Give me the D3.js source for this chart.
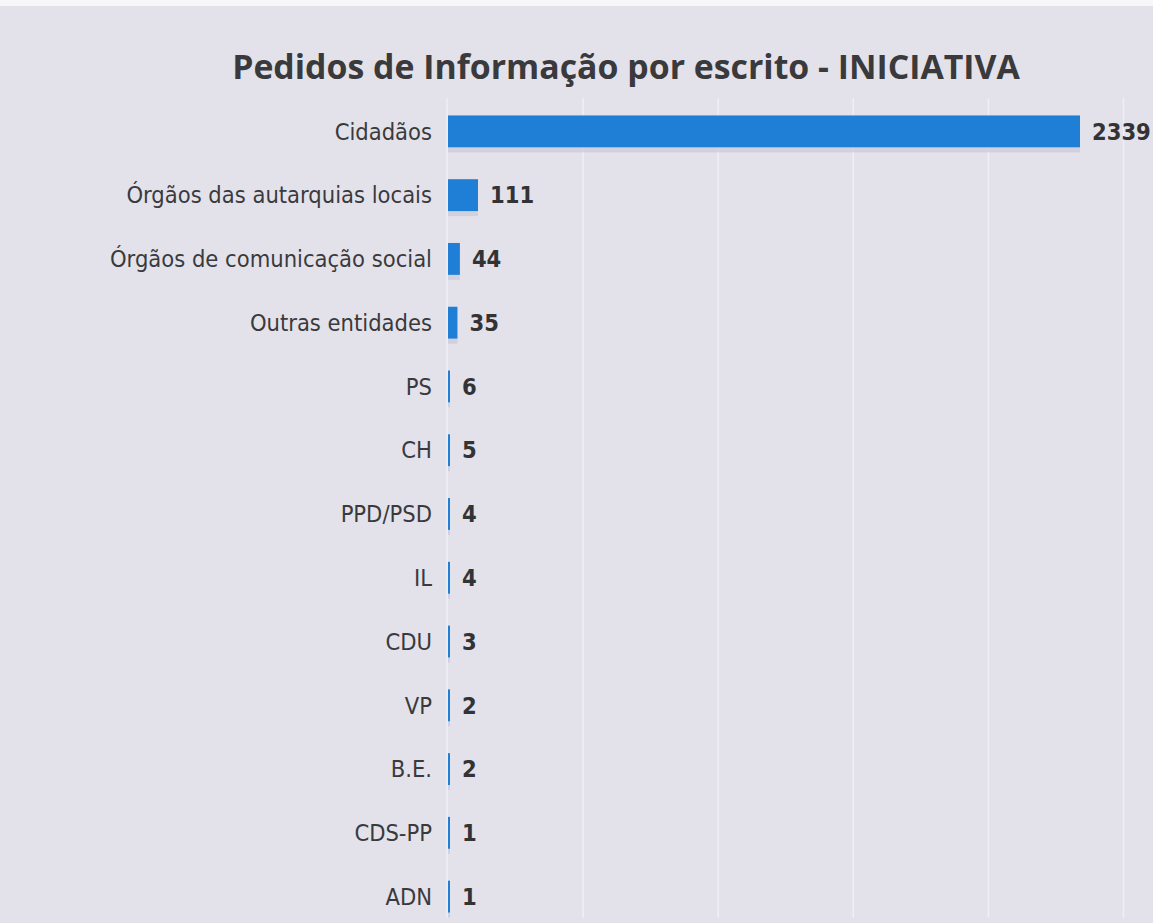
<!DOCTYPE html>
<html>
<head>
<meta charset="utf-8">
<script src="https://cdn.jsdelivr.net/npm/d3@7"></script>
<style>
  html, body { margin: 0; padding: 0; background: #e3e2eb; }
  svg { display: block; }
</style>
</head>
<body>
<svg id="chart" width="1153" height="923"></svg>
<script>
const title = "Pedidos de Informação por escrito - INICIATIVA";
const categories = ["Cidadãos", "Órgãos das autarquias locais", "Órgãos de comunicação social", "Outras entidades", "PS", "CH", "PPD/PSD", "IL", "CDU", "VP", "B.E.", "CDS-PP", "ADN"];
const values = [2339, 111, 44, 35, 6, 5, 4, 4, 3, 2, 2, 1, 1];
const gridTicks = [500, 1000, 1500, 2000, 2500];

const W = 1153, H = 923;
const svg = d3.select("#chart");

svg.append("rect").attr("width", W).attr("height", H).attr("fill", "#e3e2eb");
svg.append("rect").attr("width", W).attr("height", 6).attr("fill", "#f7f7fa");

const x = d3.scaleLinear().domain([0, 2500]).range([448, 1123.5]);
const y = d3.scaleBand().domain(categories).range([99.5, 928.5]).paddingInner(0.5).paddingOuter(0.25);

// gridlines
svg.append("g").selectAll("line").data(gridTicks).join("line")
  .attr("x1", d => x(d)).attr("x2", d => x(d))
  .attr("y1", 98).attr("y2", 918)
  .attr("stroke", "#efeff5").attr("stroke-width", 1.5);
svg.append("line").attr("x1", x(0) - 1).attr("x2", x(0) - 1).attr("y1", 98).attr("y2", 918)
  .attr("stroke", "#eeeef4").attr("stroke-width", 1.5);

const data = categories.map((c, i) => ({ c, v: values[i] }));

// bar shadows
svg.append("g").selectAll("rect").data(data).join("rect")
  .attr("x", x(0)).attr("y", d => y(d.c) + y.bandwidth())
  .attr("width", d => Math.max(2, x(d.v) - x(0)))
  .attr("height", 5)
  .attr("fill", "#c9c9d6").attr("opacity", 0.7);

// bars
svg.append("g").selectAll("rect").data(data).join("rect")
  .attr("x", x(0)).attr("y", d => y(d.c))
  .attr("width", d => Math.max(2, x(d.v) - x(0)))
  .attr("height", y.bandwidth())
  .attr("fill", "#1f7fd6");

// category labels
svg.append("g").selectAll("text").data(data).join("text")
  .attr("x", 432).attr("y", d => y(d.c) + y.bandwidth() / 2)
  .attr("dy", "0.35em").attr("text-anchor", "end")
  .attr("font-family", "'DejaVu Sans Condensed', 'DejaVu Sans', sans-serif")
  .attr("font-size", 23.5).attr("fill", "#3a3a3c")
  .text(d => d.c);

// value labels
svg.append("g").selectAll("text").data(data).join("text")
  .attr("x", d => Math.max(x(d.v), x(0) + 2) + 12)
  .attr("y", d => y(d.c) + y.bandwidth() / 2)
  .attr("dy", "0.35em")
  .attr("font-family", "'DejaVu Sans Condensed', 'DejaVu Sans', sans-serif")
  .attr("font-weight", "bold")
  .attr("font-size", 23.5).attr("fill", "#333336")
  .text(d => d.v);

// title
const t = svg.append("text")
  .attr("x", 626).attr("y", 79).attr("text-anchor", "middle")
  .attr("font-family", "'Open Sans', 'Noto Sans', sans-serif")
  .attr("font-weight", "bold").attr("font-size", 32).attr("fill", "#3a3a3c")
  .text(title);
const tl = t.node().getComputedTextLength();
t.attr("font-size", 32 * 788 / tl);
</script>
</body>
</html>
